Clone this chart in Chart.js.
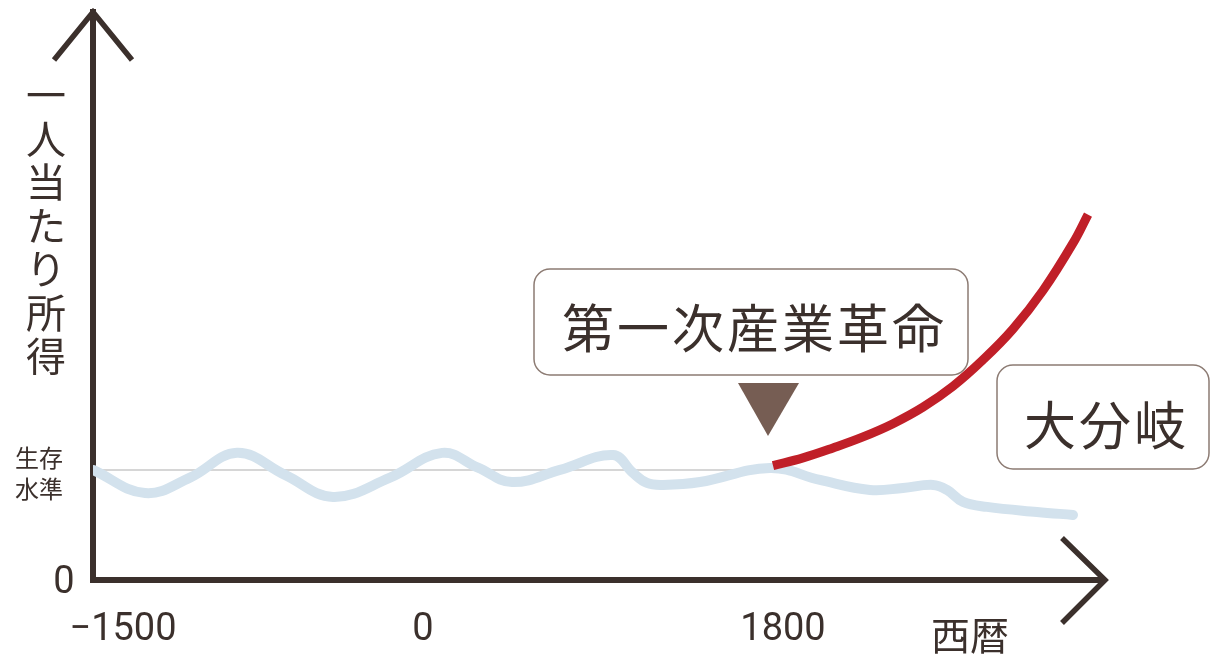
<!DOCTYPE html>
<html>
<head>
<meta charset="utf-8">
<script src="https://cdn.jsdelivr.net/npm/chart.js@4.4.1/dist/chart.umd.min.js"></script>
<style>
  html, body { margin: 0; padding: 0; background: #fff; }
  #wrap { width: 1211px; height: 662px; position: relative; }
</style>
</head>
<body>
<div id="wrap"><canvas id="incomeChart"></canvas></div>
<script>
// per capita income, 1 = subsistence level (schematic)
const worldYears  = [-1650, -1390, -1165, -930, -690, -450, -165, 95, 275, 445, 685, 950, 1050, 1120, 1200, 1385, 1735, 1985, 2235, 2400, 2550, 2620, 2700, 2820, 3070, 3250];
const worldIncome = [1.0, 0.79, 0.93, 1.155, 0.955, 0.755, 0.93, 1.155, 1.02, 0.89, 1.0, 1.136, 0.973, 0.882, 0.864, 0.89, 1.018, 0.909, 0.818, 0.836, 0.864, 0.818, 0.709, 0.664, 0.618, 0.591];
const divergeYears  = [1750, 1900, 2050, 2200, 2350, 2500, 2650, 2800, 2950, 3100, 3250, 3325];
const divergeIncome = [1.04, 1.11, 1.2, 1.3, 1.42, 1.57, 1.76, 2.0, 2.28, 2.63, 3.06, 3.32];
const subsistenceYears = [-1650, 1760];
const subsistenceLevel = [1, 1];

const xTickYears  = [-1500, 0, 1800];
const xTickLabels = ['−1500', '0', '1800'];
const yTickValues = [0, 1];
const yTickLabels = [['0'], ['生存', '水準']];
const yTitle = '一人当たり所得';
const xTitle = '西暦';
const noteRevolution = '第一次産業革命';
const noteDivergence = '大分岐';

const ink = '#3b302c';
const jp = '"Noto Sans CJK JP", "Noto Sans", sans-serif';
const num = 'Roboto, "Noto Sans", sans-serif';

const toPoints = (xs, ys) => xs.map((x, i) => ({ x: x, y: ys[i] }));

function roundBox(ctx, x, y, w, h, r) {
  ctx.beginPath();
  ctx.moveTo(x + r, y);
  ctx.arcTo(x + w, y, x + w, y + h, r);
  ctx.arcTo(x + w, y + h, x, y + h, r);
  ctx.arcTo(x, y + h, x, y, r);
  ctx.arcTo(x, y, x + w, y, r);
  ctx.closePath();
  ctx.fillStyle = '#fff';
  ctx.fill();
  ctx.lineWidth = 1.5;
  ctx.strokeStyle = '#8c7b73';
  ctx.stroke();
}

function spacedText(ctx, text, cx, cy, pitch) {
  const chars = Array.from(text);
  const start = cx - pitch * (chars.length - 1) / 2;
  chars.forEach((c, i) => ctx.fillText(c, start + i * pitch, cy));
}

const decorations = {
  id: 'decorations',
  afterDraw(chart) {
    const { ctx, chartArea, scales } = chart;
    const xs = scales.x, ys = scales.y;
    ctx.save();

    // arrow heads
    ctx.strokeStyle = ink;
    ctx.lineWidth = 5.5;
    ctx.lineCap = 'butt';
    ctx.lineJoin = 'miter';
    ctx.beginPath();
    ctx.moveTo(chartArea.left - 39, chartArea.top + 48);
    ctx.lineTo(chartArea.left, chartArea.top);
    ctx.lineTo(chartArea.left + 39, chartArea.top + 48);
    ctx.stroke();
    ctx.beginPath();
    ctx.moveTo(chartArea.right - 43, chartArea.bottom - 42);
    ctx.lineTo(chartArea.right, chartArea.bottom);
    ctx.lineTo(chartArea.right - 43, chartArea.bottom + 43);
    ctx.stroke();

    ctx.fillStyle = ink;
    ctx.textAlign = 'center';
    ctx.textBaseline = 'middle';

    // x tick labels
    ctx.font = '38px ' + num;
    xTickYears.forEach((yr, i) => {
      ctx.fillText(xTickLabels[i], xs.getPixelForValue(yr), chartArea.bottom + 50);
    });
    ctx.font = '39px ' + jp;
    ctx.fillText(xTitle, 970, chartArea.bottom + 55);

    // y tick labels
    ctx.font = '38px ' + num;
    ctx.fillText(yTickLabels[0][0], 64, ys.getPixelForValue(yTickValues[0]) + 3);
    ctx.font = '24px ' + jp;
    const py = ys.getPixelForValue(yTickValues[1]);
    ctx.fillText(yTickLabels[1][0], 39, py - 12);
    ctx.fillText(yTickLabels[1][1], 39, py + 19);

    // vertical y title
    ctx.font = '40px ' + jp;
    Array.from(yTitle).forEach((c, i) => ctx.fillText(c, 46, 95 + i * 43.5));

    // annotation: industrial revolution
    roundBox(ctx, 534, 269, 434, 106, 16);
    ctx.fillStyle = ink;
    ctx.font = '52px ' + jp;
    spacedText(ctx, noteRevolution, 753, 328, 55);
    ctx.fillStyle = '#765d53';
    ctx.beginPath();
    ctx.moveTo(738, 383);
    ctx.lineTo(799, 383);
    ctx.lineTo(768, 436);
    ctx.closePath();
    ctx.fill();

    // annotation: great divergence
    roundBox(ctx, 997, 365, 212, 104, 16);
    ctx.fillStyle = ink;
    ctx.font = '52px ' + jp;
    spacedText(ctx, noteDivergence, 1105, 425, 55);

    ctx.restore();
  }
};

new Chart(document.getElementById('incomeChart'), {
  type: 'line',
  data: {
    datasets: [
      {
        data: toPoints(subsistenceYears, subsistenceLevel),
        borderColor: '#c9c9c9',
        borderWidth: 1.5,
        pointRadius: 0,
        tension: 0,
        order: 3
      },
      {
        data: toPoints(worldYears, worldIncome),
        borderColor: '#d3e2ed',
        borderWidth: 10,
        borderCapStyle: 'round',
        borderJoinStyle: 'round',
        pointRadius: 0,
        tension: 0.4,
        order: 2
      },
      {
        data: toPoints(divergeYears, divergeIncome),
        borderColor: '#c01f28',
        borderWidth: 9,
        pointRadius: 0,
        tension: 0.4,
        order: 1
      }
    ]
  },
  options: {
    responsive: true,
    maintainAspectRatio: false,
    animation: false,
    layout: { padding: { left: 93, top: 12, right: 106, bottom: 82 } },
    plugins: { legend: { display: false }, tooltip: { enabled: false } },
    scales: {
      x: {
        type: 'linear',
        min: -1650,
        max: 3410,
        grid: { display: false, drawTicks: false },
        ticks: { display: false },
        border: { display: true, color: ink, width: 6 }
      },
      y: {
        type: 'linear',
        min: 0,
        max: 5.16,
        grid: { display: false, drawTicks: false },
        ticks: { display: false },
        border: { display: true, color: ink, width: 6 }
      }
    }
  },
  plugins: [decorations]
});
</script>
</body>
</html>
